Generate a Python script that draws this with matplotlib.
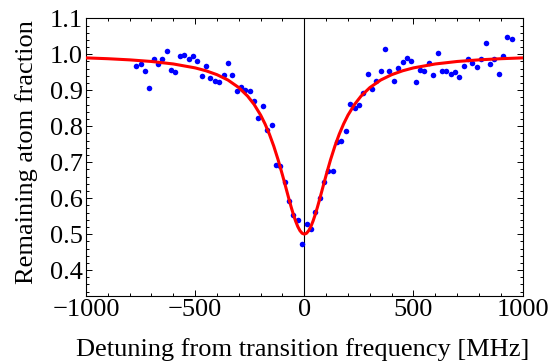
import matplotlib
matplotlib.use("Agg")
import matplotlib.pyplot as plt
from matplotlib.ticker import MultipleLocator

plt.rcParams['font.family'] = ['Liberation Serif', 'DejaVu Serif']
plt.rcParams['mathtext.fontset'] = 'stix'

# measured points (detuning MHz, remaining fraction)
det_left = [-770, -750, -730, -710, -690, -670, -650, -630, -610, -590, -570, -550, -530,
            -510, -490, -470, -450, -430, -410, -390, -370, -350, -330, -310, -290, -270,
            -250, -230, -210, -190, -170, -150, -130, -110, -90, -70, -50, -30, -10]
frac_left = [0.968, 0.973, 0.954, 0.907, 0.988, 0.972, 0.988, 1.010, 0.956, 0.952, 0.995,
             0.998, 0.986, 0.995, 0.982, 0.941, 0.968, 0.933, 0.926, 0.923, 0.943, 0.977,
             0.942, 0.897, 0.910, 0.901, 0.899, 0.869, 0.824, 0.857, 0.789, 0.804, 0.693,
             0.689, 0.645, 0.592, 0.554, 0.538, 0.472]
det_right = [10, 30, 50, 70, 90, 110, 130, 150, 170, 190, 210, 230, 250, 270, 290, 310, 330,
             350, 370, 390, 410, 430, 450, 470, 490, 510, 530, 550, 570, 590, 610, 630, 650,
             670, 690, 710, 730, 750, 770, 790, 810, 830, 850, 870, 890, 910, 930, 950]
frac_right = [0.529, 0.514, 0.562, 0.601, 0.645, 0.676, 0.676, 0.757, 0.759, 0.788, 0.863,
              0.850, 0.859, 0.891, 0.944, 0.904, 0.925, 0.953, 1.014, 0.954, 0.925, 0.961,
              0.979, 0.990, 0.981, 0.923, 0.957, 0.954, 0.976, 0.943, 1.004, 0.953, 0.954,
              0.946, 0.952, 0.936, 0.968, 0.987, 0.975, 0.964, 0.986, 1.032, 0.974, 0.986,
              0.944, 0.994, 1.049, 1.042]

# fitted curve
fit_x = [-1000, -900, -800, -700, -600, -500, -450, -400, -350, -300, -260, -230, -200, -180,
         -160, -140, -120, -100, -90, -80, -70, -60, -50, -40, -30, -20, -10, 0,
         10, 20, 30, 40, 50, 60, 70, 80, 90, 100, 120, 140, 160, 180, 200, 230, 260, 300,
         350, 400, 450, 500, 600, 700, 800, 900, 1000]
fit_y = [0.9900, 0.9877, 0.9845, 0.9800, 0.9731, 0.9622, 0.9541, 0.9433, 0.9285, 0.9074,
         0.8839, 0.8606, 0.8309, 0.8065, 0.7780, 0.7447, 0.7066, 0.6642, 0.6419, 0.6192,
         0.5966, 0.5748, 0.5545, 0.5363, 0.5211, 0.5096, 0.5024, 0.5000,
         0.5024, 0.5096, 0.5211, 0.5363, 0.5545, 0.5748, 0.5966, 0.6192, 0.6419, 0.6642,
         0.7066, 0.7447, 0.7780, 0.8065, 0.8309, 0.8606, 0.8839, 0.9074, 0.9285, 0.9433,
         0.9541, 0.9622, 0.9731, 0.9800, 0.9845, 0.9877, 0.9900]

x_ticks = [-1000, -500, 0, 500, 1000]
x_labels = ['\u22121000', '\u2212500', '0', '500', '1000']
y_ticks = [0.4, 0.5, 0.6, 0.7, 0.8, 0.9, 1.0, 1.1]
y_labels = ['0.4', '0.5', '0.6', '0.7', '0.8', '0.9', '1.0', '1.1']

FS = 19

fig = plt.figure(figsize=(5.59, 3.62), dpi=100)
ax = fig.add_axes([0.1538, 0.1823, 0.7812, 0.7671])

ax.axvline(0, color='black', lw=0.8, zorder=1)
ax.plot(det_left + det_right, frac_left + frac_right, 'o', color='#0000ff', ms=4.0,
        mec='none', zorder=2)
ax.plot(fit_x, fit_y, color='#ff0000', lw=2.2, zorder=3)

ax.set_xlim(-1000, 1000)
ax.set_ylim(0.328, 1.1)
ax.set_xticks(x_ticks)
ax.set_xticklabels(x_labels)
ax.set_yticks(y_ticks)
ax.set_yticklabels(y_labels)
ax.xaxis.set_minor_locator(MultipleLocator(100))
ax.yaxis.set_minor_locator(MultipleLocator(0.02))
ax.tick_params(which='both', direction='in', top=True, right=True, labelsize=FS,
               width=0.7, colors='black')
ax.tick_params(which='major', length=4)
ax.tick_params(which='minor', length=2.2)
ax.tick_params(axis='x', pad=2.2)
ax.tick_params(axis='y', pad=2.5)
for s in ax.spines.values():
    s.set_linewidth(0.8)

ax.set_xlabel('Detuning from transition frequency [MHz]', fontsize=FS)
ax.xaxis.label.set_va('baseline')
ax.xaxis.set_label_coords(0.496, -0.216)
ax.set_ylabel('Remaining atom fraction', fontsize=FS)
ax.yaxis.label.set_va('baseline')
ax.yaxis.set_label_coords(-0.1214, 0.52)

fig.savefig('out.png', dpi=100)
